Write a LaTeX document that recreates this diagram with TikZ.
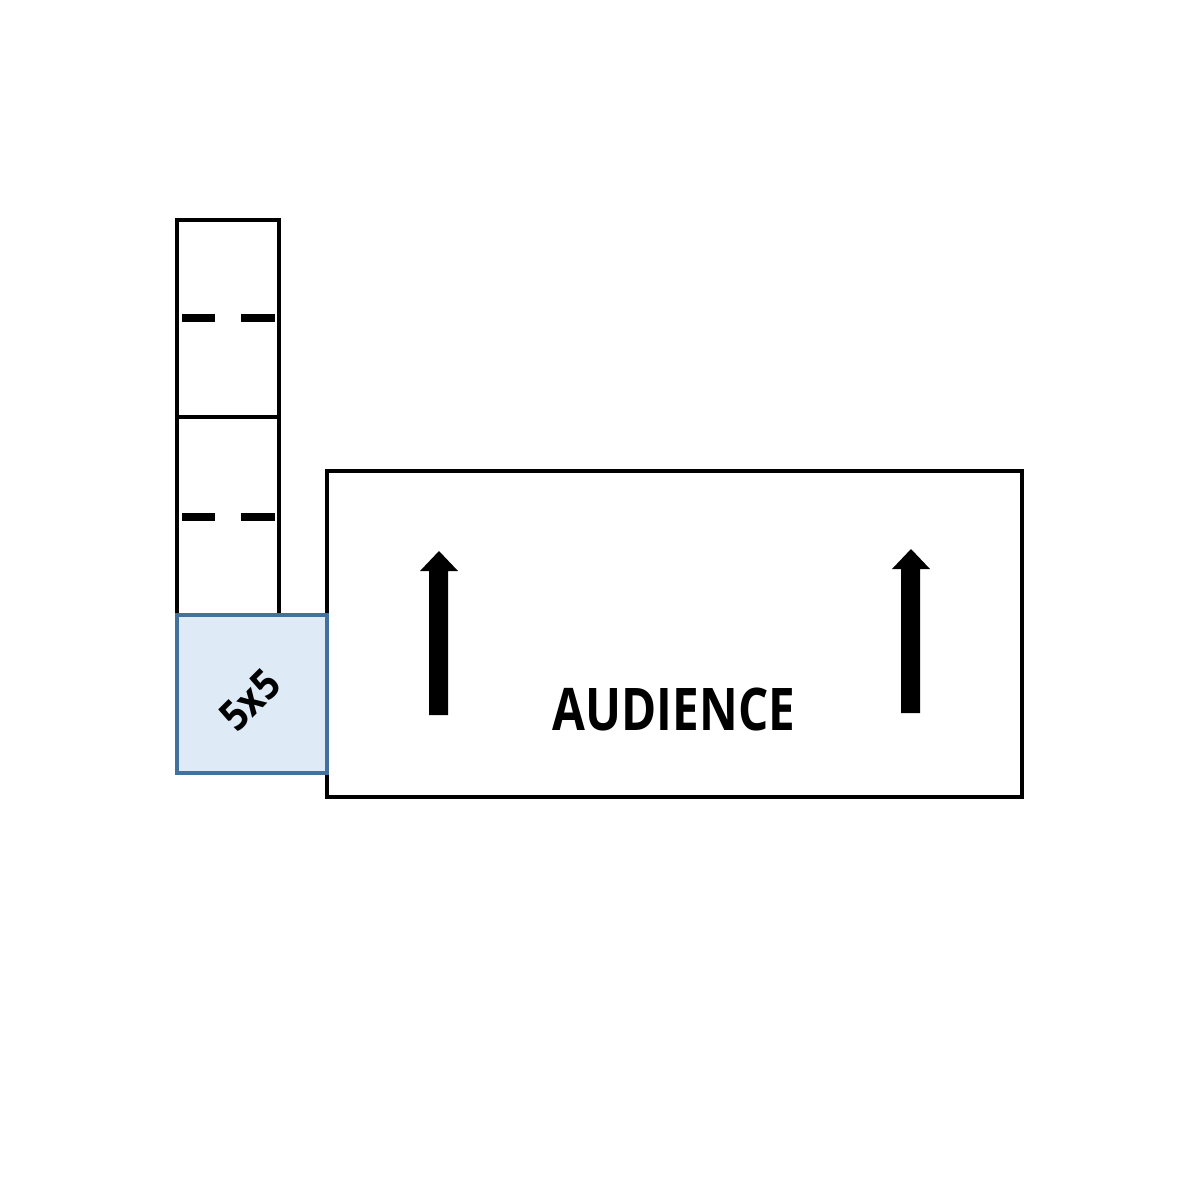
\documentclass[tikz,border=0pt]{standalone}
\usepackage{fontspec}
\newfontfamily\audfont{Open Sans}[FakeStretch=0.81]
\newfontfamily\labfont{Open Sans}[FakeStretch=0.9]
\definecolor{bluefill}{HTML}{DEEAF6}
\definecolor{blueline}{HTML}{41719C}
\begin{document}
\begin{tikzpicture}[x=0.5pt,y=-0.5pt,
  frame/.style={draw=black,line width=1.7pt},
  dashbar/.style={fill=black},
  bigarrow/.style={fill=black}]
\useasboundingbox (0,0) rectangle (1200,1200);
% column boxes
\draw[frame] (177,220) rectangle (279,417);
\draw[frame] (177,417) rectangle (279,615);
\fill[dashbar] (182,314) rectangle (215,322);
\fill[dashbar] (241,314) rectangle (275,322);
\fill[dashbar] (182,513) rectangle (215,521);
\fill[dashbar] (241,513) rectangle (275,521);
% audience box
\draw[frame] (327,471) rectangle (1022,797);
% 5x5 square
\draw[fill=bluefill,draw=blueline,line width=1.6pt] (177,615) rectangle (327,773);
\node[rotate=45,font=\labfont\bfseries\fontsize{21}{21}\selectfont,inner sep=0pt] (five) at (250,700) {5x5};
% arrows
\fill[bigarrow] (429,715) -- (429,571) -- (420,571) -- (439,551) -- (458,571) -- (448,571) -- (448,715) -- cycle;
\fill[bigarrow] (901,713) -- (901,569) -- (892,569) -- (911,549) -- (930,569) -- (920,569) -- (920,713) -- cycle;
\node[font=\audfont\bfseries\fontsize{29.4}{29.4}\selectfont,anchor=base,inner sep=0pt] (aud) at (674,730) {AUDIENCE};
\end{tikzpicture}
\end{document}
